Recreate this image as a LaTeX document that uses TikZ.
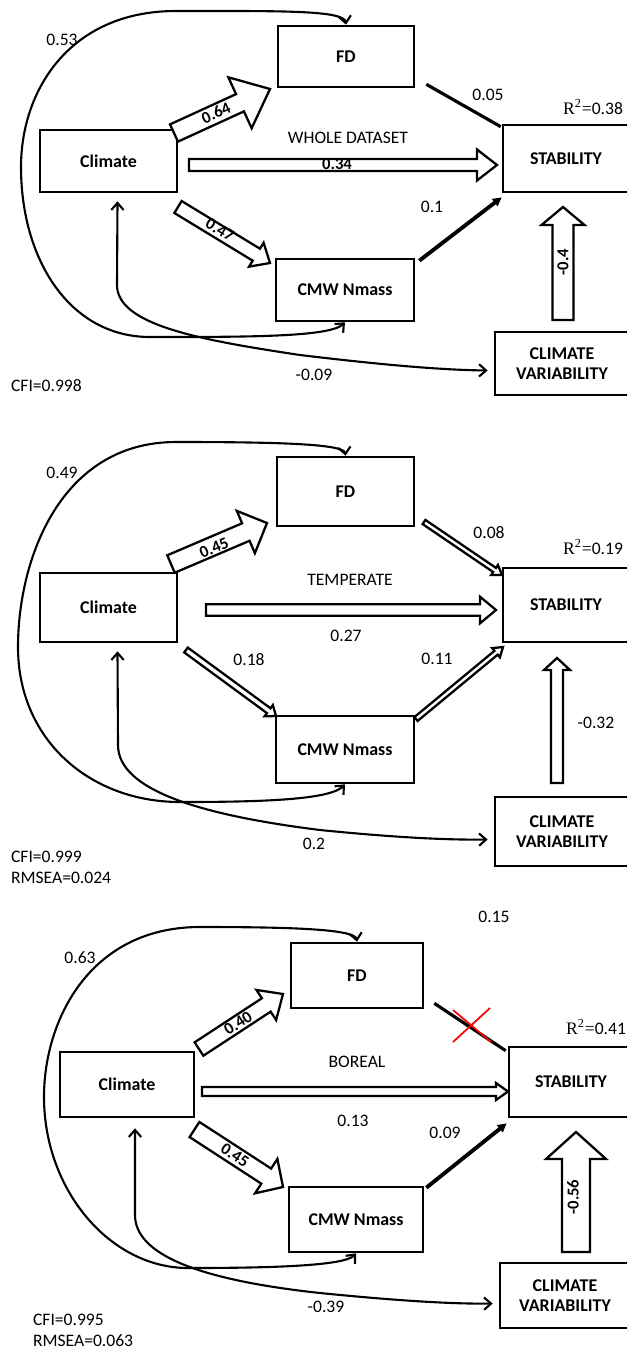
\documentclass[tikz,border=0pt]{standalone}
\usepackage{fontspec}
\setmainfont{Carlito}
\newfontfamily\seriffont{Liberation Serif}
\usetikzlibrary{calc, arrows.meta}
\tikzset{
  every node/.style={font=\fontsize{10}{11.3}\selectfont},
  vbox/.style 2 args={draw, line width=1.5pt, minimum width={#1*0.02cm}, minimum height={#2*0.02cm},
                      inner sep=0pt, align=center, font=\fontsize{10.2}{11.3}\selectfont\bfseries},
  num/.style={inner sep=1pt},
  numb/.style={inner sep=0pt, font=\fontsize{9.5}{11}\selectfont\bfseries},
  fat/.style={draw, fill=white, line width=1.3pt, line join=miter},
  curve/.style={<->, >={Straight Barb[length=4pt,width=7pt]}, line width=1.2pt},
  plainline/.style={line width=1.8pt},
  arrline/.style={-{Triangle[length=5pt,width=5pt]}, line width=2.2pt},
  cross/.style={red, line width=1pt},
}
% block arrow: from, to, half shaft, half head, head length (all in px)
\newcommand{\fatarrow}[5]{%
  \coordinate (hb) at ($(#2)!{#5*0.02cm}!(#1)$);
  \draw[fat] ($(#1)!{#3*0.02cm}!90:(#2)$) -- ($(hb)!{#3*0.02cm}!90:(#2)$)
    -- ($(hb)!{#4*0.02cm}!90:(#2)$) -- (#2) -- ($(hb)!{#4*0.02cm}!-90:(#2)$)
    -- ($(hb)!{#3*0.02cm}!-90:(#2)$) -- ($(#1)!{#3*0.02cm}!-90:(#2)$) -- cycle;}

\begin{document}
\begin{tikzpicture}[x=0.02cm, y=-0.02cm]
  \useasboundingbox (0,0) rectangle (626,1349);

  % whole dataset
  \node[vbox={137}{62}] (clim1) at (108.5,161) {Climate};
  \node[vbox={136}{61}] (fd1) at (346,56.5) {FD};
  \node[vbox={138}{62}] (cmw1) at (345,290) {CMW Nmass};
  \node[vbox={126}{67}] (stab1) at (566,158.5) {STABILITY};
  \node[vbox={134}{63}] (cv1) at (562,363.5) {CLIMATE\\VARIABILITY};
  \coordinate (a1s) at (174,133);   \coordinate (a1t) at (270,89);
  \coordinate (b1s) at (189,165);   \coordinate (b1t) at (497,165);
  \coordinate (c1s) at (178,207);   \coordinate (c1t) at (270,263);
  \coordinate (v1s) at (563,320);   \coordinate (v1t) at (563,207);
  \fatarrow{a1s}{a1t}{9.5}{28}{33}
  \fatarrow{b1s}{b1t}{6}{15.5}{20}
  \fatarrow{c1s}{c1t}{7}{14}{16}
  \fatarrow{v1s}{v1t}{10.5}{21.5}{18}
  \draw[plainline] ($(fd1.south east)+(11,-4)$) -- ($(stab1.north west)+(-1,3)$);
  \draw[arrline] ($(cmw1.north east)+(4,3)$) -- ($(stab1.south west)+(0,4)$);
  \draw[curve] (fd1.north) .. controls (344,10) and (280,11) .. (176,11)
    .. controls (70,11) and (21,90) .. (21,167)
    .. controls (21,260) and (70,337) .. (150,337)
    .. controls (250,337) and (330,337) .. (cmw1.south);
  \draw[curve] ($(clim1.south)+(9,8)$) -- (117,285)
    .. controls (117,325) and (200,340) .. (300,355)
    .. controls (400,367) and (450,370) .. ($(cv1.west)+(-6,7)$);
  \node[num] (w53) at (62,40) {0.53};
  \node[numb, rotate=24] (w64) at (216,113) {0.64};
  \node[numb] (w34) at (337,164) {0.34};
  \node[numb, rotate=-31] (w47) at (220,230) {0.47};
  \node[num] (t1) at (348,138) {WHOLE DATASET};
  \node[num] (w05) at (488,95) {0.05};
  \node[num] (w10) at (432,207) {0.1};
  \node[numb, rotate=90] (w04) at (563,262) {-0.4};
  \node[num] (w09) at (314,375) {-0.09};
  \node[num] (r1) at (593,107) {{\seriffont R\textsuperscript{2}=}0.38};
  \node[num, anchor=west] (fit1) at (9,386) {CFI=0.998};

  % temperate
  \node[vbox={137}{69}] (clim2) at (108.5,607.5) {Climate};
  \node[vbox={137}{69}] (fd2) at (345.5,491.5) {FD};
  \node[vbox={138}{67}] (cmw2) at (345,749.5) {CMW Nmass};
  \node[vbox={126}{74}] (stab2) at (566,605) {STABILITY};
  \node[vbox={134}{69}] (cv2) at (562,831.5) {CLIMATE\\VARIABILITY};
  \coordinate (a2s) at (171,564);   \coordinate (a2t) at (267,523);
  \coordinate (b2s) at (206,610);   \coordinate (b2t) at (496,610);
  \coordinate (c2s) at (186,650);   \coordinate (c2t) at (276,716);
  \coordinate (d2s) at (424,522);   \coordinate (d2t) at (502,575);
  \coordinate (e2s) at (416,719);   \coordinate (e2t) at (503,647);
  \coordinate (v2s) at (557,783);   \coordinate (v2t) at (557,658);
  \fatarrow{a2s}{a2t}{9.5}{23}{23}
  \fatarrow{b2s}{b2t}{5.7}{13.3}{16}
  \fatarrow{c2s}{c2t}{3}{7}{9}
  \fatarrow{d2s}{d2t}{2.5}{6}{9}
  \fatarrow{e2s}{e2t}{2.5}{6}{9}
  \fatarrow{v2s}{v2t}{6}{13}{12}
  \draw[curve] (fd2.north) .. controls (344,444) and (280,442) .. (176,442)
    .. controls (60,442) and (18,560) .. (18,647)
    .. controls (18,740) and (90,802) .. (180,802)
    .. controls (260,802) and (330,800) .. (cmw2.south);
  \draw[curve] ($(clim2.south)+(9,8)$) -- (118,745)
    .. controls (118,790) and (200,815) .. (320,830)
    .. controls (400,838) and (450,840) .. ($(cv2.west)+(-6,8)$);
  \node[num] (w49) at (62,473) {0.49};
  \node[numb, rotate=23] (w45) at (214,548) {0.45};
  \node[num] (t2) at (350,580) {TEMPERATE};
  \node[num] (w27) at (346,636) {0.27};
  \node[num] (w18) at (249,660) {0.18};
  \node[num] (w08) at (489,533) {0.08};
  \node[num] (w11) at (437,659) {0.11};
  \node[num] (w32) at (596,723) {-0.32};
  \node[num] (w20) at (314,844) {0.2};
  \node[num] (r2) at (593,547) {{\seriffont R\textsuperscript{2}=}0.19};
  \node[num, anchor=west] (fit2) at (9,857) {CFI=0.999};
  \node[num, anchor=west] (rm2) at (9,878) {RMSEA=0.024};

  % boreal
  \node[vbox={134}{65}] (clim3) at (127,1084.5) {Climate};
  \node[vbox={132}{65}] (fd3) at (357,975.5) {FD};
  \node[vbox={134}{65}] (cmw3) at (356,1219.5) {CMW Nmass};
  \node[vbox={124}{70}] (stab3) at (571,1082) {STABILITY};
  \node[vbox={130}{65}] (cv3) at (565,1295.5) {CLIMATE\\VARIABILITY};
  \coordinate (a3s) at (199,1049);  \coordinate (a3t) at (283,994);
  \coordinate (b3s) at (202,1091.5); \coordinate (b3t) at (508,1091.5);
  \coordinate (c3s) at (194.5,1129.5); \coordinate (c3t) at (283,1187);
  \coordinate (v3s) at (576,1252);  \coordinate (v3t) at (576,1132);
  \fatarrow{a3s}{a3t}{8}{18}{20}
  \fatarrow{b3s}{b3t}{4.5}{8.5}{12}
  \fatarrow{c3s}{c3t}{9}{20.5}{20}
  \fatarrow{v3s}{v3t}{14}{30}{27}
  \draw[plainline] ($(fd3.south east)+(10,-6)$) -- ($(stab3.north west)+(-2,5)$);
  \draw[cross] (453,1010) -- (491,1042) (453,1042) -- (490,1008);
  \draw[arrline] ($(cmw3.north east)+(2,2)$) -- ($(stab3.south west)+(-1,5)$);
  \draw[curve] (fd3.north) .. controls (355,929) and (290,927) .. (200,927)
    .. controls (90,927) and (44,1020) .. (44,1097)
    .. controls (44,1190) and (110,1268) .. (188,1268)
    .. controls (270,1268) and (345,1266) .. (cmw3.south);
  \draw[curve] ($(clim3.south)+(8,10)$) -- (135,1215)
    .. controls (135,1255) and (200,1280) .. (320,1293)
    .. controls (410,1302) and (460,1304) .. ($(cv3.west)+(-6,8)$);
  \node[num] (w15) at (494,917) {0.15};
  \node[num] (w63) at (80,958) {0.63};
  \node[numb, rotate=33] (w40) at (238,1023) {0.40};
  \node[num] (t3) at (357,1062) {BOREAL};
  \node[num] (w13) at (353,1121) {0.13};
  \node[numb, rotate=-33] (w45b) at (235,1155) {0.45};
  \node[num] (w09b) at (445,1133) {0.09};
  \node[numb, rotate=90] (w56) at (573,1197) {-0.56};
  \node[num] (w39) at (326,1307) {-0.39};
  \node[num] (r3) at (596,1027) {{\seriffont R\textsuperscript{2}=}0.41};
  \node[num, anchor=west] (fit3) at (31,1320) {CFI=0.995};
  \node[num, anchor=west] (rm3) at (31,1341) {RMSEA=0.063};
\end{tikzpicture}
\end{document}
